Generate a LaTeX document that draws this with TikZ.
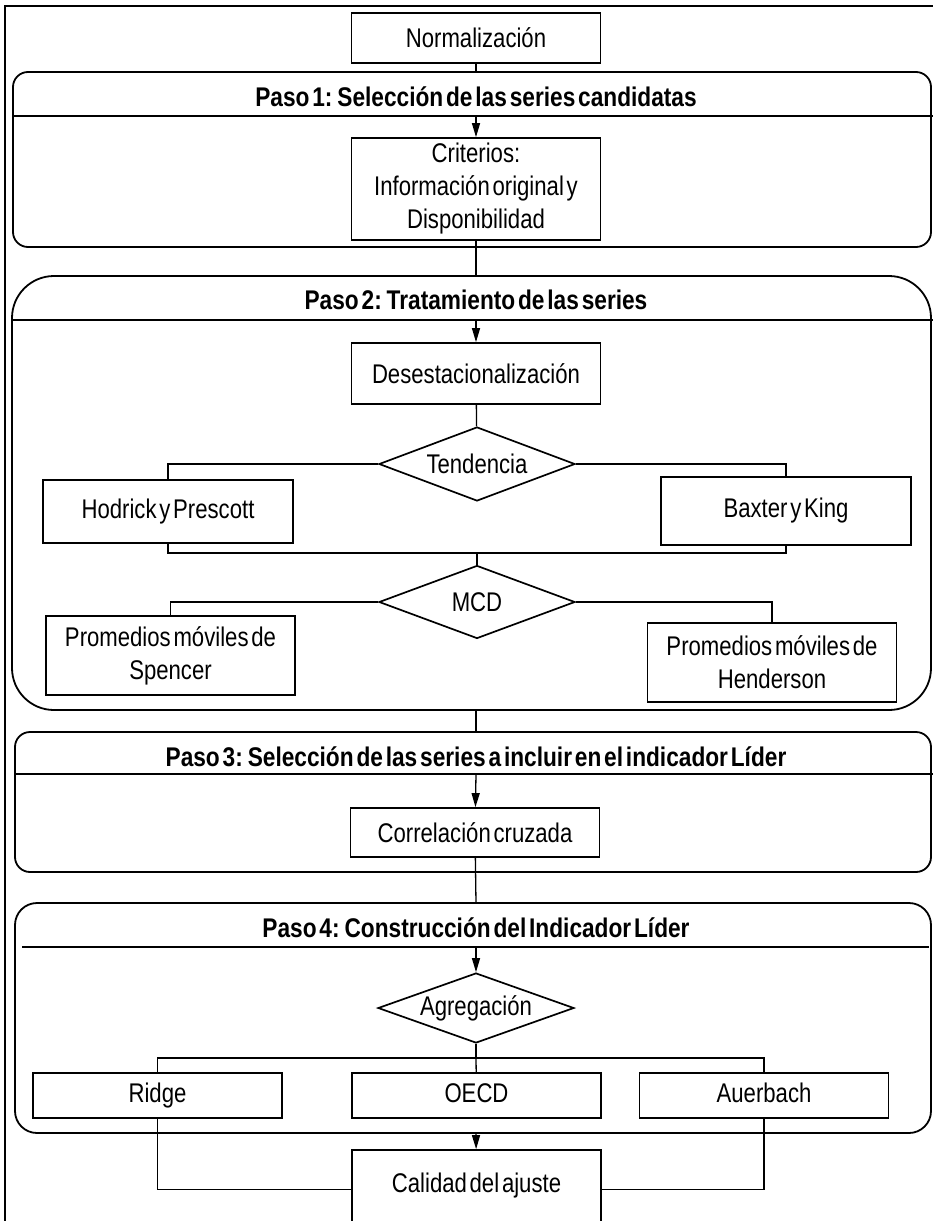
\documentclass[tikz,border=0pt]{standalone}
\usepackage{fontspec}
\setmainfont{Liberation Sans}[FakeStretch=0.82, WordSpace=0.45,
    BoldFeatures={FakeStretch=0.84}]
\usepackage{tikz}
\usetikzlibrary{arrows.meta, positioning, shapes.geometric, calc}

\begin{document}
\begin{tikzpicture}[x=1pt, y=1pt,
    box/.style={draw, line width=1.7pt, minimum width=249pt, inner sep=0pt,
                font=\fontsize{27}{33}\selectfont, align=center},
    choice/.style={draw, diamond, aspect=3.2, line width=1.7pt, minimum width=196pt,
                   minimum height=73pt, inner sep=0pt, font=\fontsize{27}{33}\selectfont},
    frame/.style={draw, line width=1.8pt},
    title/.style={font=\fontsize{27}{30}\selectfont\bfseries},
    arr/.style={-{Triangle[length=14pt, width=8pt]}, line width=1.3pt},
    link/.style={line width=1.3pt}
]
\useasboundingbox (0,0) rectangle (933,-1221);
\fill[white] (0,0) rectangle (933,-1221);

% outer border
\draw[frame] (5,-1240) -- (5,-6) -- (950,-6);

% step frames
\draw[frame, rounded corners=15pt] (13,-72) rectangle (931,-247);
\draw[frame] (13,-116) -- (945,-116);
\draw[frame, rounded corners=42pt] (12,-276) rectangle (931,-710);
\draw[frame] (12,-320) -- (945,-320);
\draw[frame, rounded corners=15pt] (15,-732) rectangle (931,-872);
\draw[frame] (15,-774) -- (945,-774);
\draw[frame, rounded corners=22pt] (15,-903) rectangle (931,-1133);
\draw[frame] (22,-947) -- (929,-947);

\node[title] (paso1) at (476,-97) {Paso 1: Selección de las series candidatas};
\node[title] (paso2) at (476,-300) {Paso 2: Tratamiento de las series};
\node[title] (paso3) at (476,-757) {Paso 3: Selección de las series a incluir en el indicador Líder};
\node[title] (paso4) at (476,-928) {Paso 4: Construcción del Indicador Líder};

\coordinate (p1top) at (476,-72);
\coordinate (p1in) at (476,-116);
\coordinate (p2top) at (476,-276);
\coordinate (p2in) at (476,-320);
\coordinate (p2bot) at (476,-710);
\coordinate (p3top) at (476,-732);
\coordinate (p3in) at (476,-774);
\coordinate (p4top) at (476,-903);
\coordinate (p4in) at (476,-947);
\coordinate (p4bot) at (476,-1133);

% boxes
\node[box, minimum height=50pt] (norm) at (476,-38) {Normalización};
\node[box, minimum height=102pt] (crit) at (476,-189) {Criterios:\\Información original y\\Disponibilidad};
\node[box, minimum height=61pt] (dese) at (476,-373.5) {Desestacionalización};
\node[choice, minimum height=74pt] (tend) at (477,-464) {Tendencia};
\node[box, minimum width=250pt, minimum height=63pt] (hodrick) at (168,-511.5) {Hodrick y Prescott};
\node[box, minimum width=250pt, minimum height=68pt] (baxter) at (786,-511) {Baxter y King};
\node[choice] (mcd) at (477,-602) {MCD};
\node[box, minimum height=79pt] (spencer) at (170.5,-655.5) {Promedios móviles de\\Spencer};
\node[box, minimum height=79pt] (henderson) at (772,-662.5) {Promedios móviles de\\Henderson};
\node[box, minimum height=49pt] (corr) at (475,-832.5) {Correlación cruzada};
\node[choice, minimum height=70pt] (agreg) at (476,-1008) {Agregación};
\node[box, minimum height=45pt, text height=19pt, text depth=6pt] (ridge) at (157.5,-1095.5) {Ridge};
\node[box, minimum height=45pt, text height=19pt, text depth=6pt] (oecd) at (476.5,-1095.5) {OECD};
\node[box, minimum height=45pt, text height=19pt, text depth=6pt] (auer) at (764,-1095.5) {Auerbach};
\node[box, anchor=base, text height=42pt, text depth=52pt] (calidad) at (476.5,-1192) {Calidad del ajuste};

\coordinate (join) at (477,-553);
\coordinate (split) at (476,-1058);

% connectors
\draw[link] (norm) -- (p1top);
\draw[arr] (p1in) -- (crit);
\draw[link] (crit) -- (p2top);
\draw[arr] (p2in) -- (dese);
\draw[link] (dese) -- (tend);
\draw[link] (tend.west) -| (hodrick.north);
\draw[link] (tend.east) -| (baxter.north);
\draw[link] (hodrick.south) |- (join) -| (baxter.south);
\draw[link] (join) -- (mcd.north);
\draw[link] (mcd.west) -| (spencer.north);
\draw[link] (mcd.east) -| (henderson.north);
\draw[link] (p2bot) -- (p3top);
\draw[arr] (p3in) -- (corr);
\draw[link] (corr) -- (p4top);
\draw[arr] (p4in) -- (agreg);
\draw[link] (agreg) -- (split);
\draw[link] (ridge.north) |- (split) -| (auer.north);
\draw[link] (split) -- (oecd);
\draw[arr] (p4bot) -- (calidad);
\draw[link] (ridge.south) |- (calidad.mid west);
\draw[link] (auer.south) |- (calidad.mid east);
\end{tikzpicture}
\end{document}
